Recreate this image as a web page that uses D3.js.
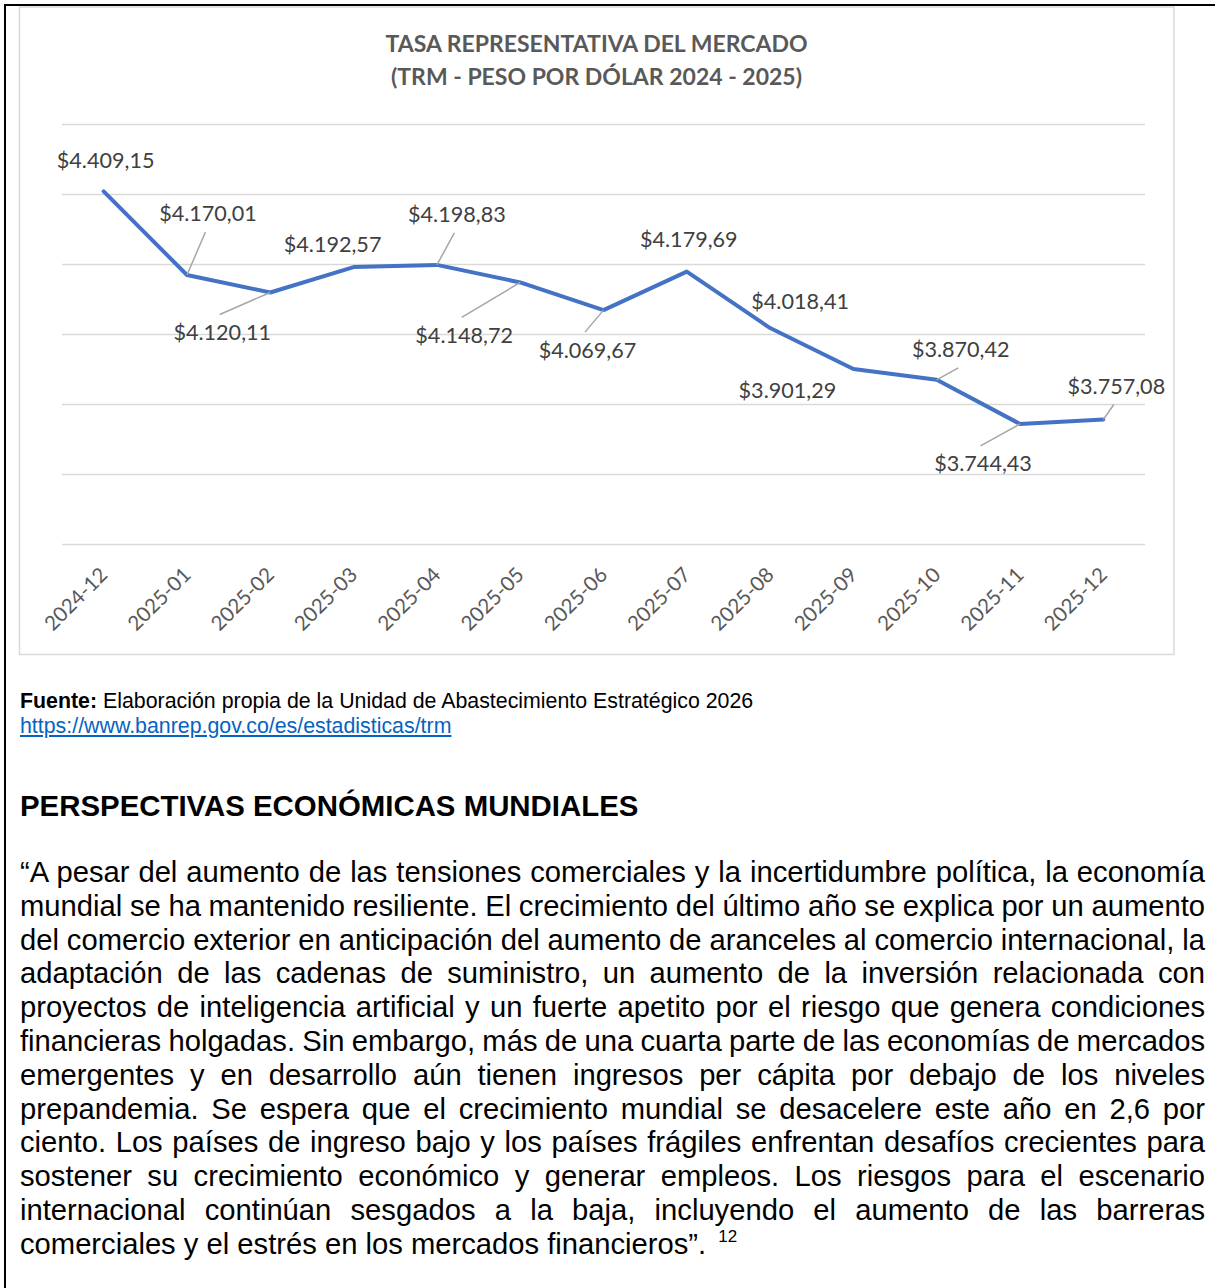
<!DOCTYPE html>
<html>
<head>
<meta charset="utf-8">
<script src="https://cdn.jsdelivr.net/npm/d3@7"></script>
<style>
  body { margin: 0; background: #fff; }
  #page { position: relative; width: 1215px; height: 1288px; overflow: hidden; background: #fff; }
  #chart { position: absolute; left: 0; top: 0; }
  .txt { position: absolute; left: 20px; font-family: "Liberation Sans", Arial, sans-serif; color: #000; }
  .fuente { top: 689px; font-size: 21.35px; line-height: 24.6px; }
  .fuente a { color: #0563C1; text-decoration: underline; }
  .heading { top: 791px; font-size: 29.4px; line-height: 29.4px; font-weight: bold; white-space: nowrap; }
  .para { top: 856px; width: 1185px; font-size: 29.2px; line-height: 33.8px; }
  .para div { white-space: nowrap; text-align: justify; text-align-last: justify; word-spacing: -1.5px; }
  .para div.last { text-align: left; text-align-last: left; word-spacing: 0; }
  .para sup { font-size: 17px; vertical-align: 0; position: relative; top: -12px; margin-left: 12px; }
</style>
</head>
<body>
<div id="page">
  <svg id="chart" width="1215" height="1288"></svg>
  <div class="txt fuente"><b>Fuente:</b> Elaboración propia de la Unidad de Abastecimiento Estratégico 2026<br><a href="#">https://www.banrep.gov.co/es/estadisticas/trm</a></div>
  <div class="txt heading">PERSPECTIVAS ECONÓMICAS MUNDIALES</div>
  <div class="txt para" id="para"></div>
</div>
<script>
// datos TRM mensual
const months = ["2024-12", "2025-01", "2025-02", "2025-03", "2025-04", "2025-05", "2025-06",
                "2025-07", "2025-08", "2025-09", "2025-10", "2025-11", "2025-12"];
const trm = [4409.15, 4170.01, 4120.11, 4192.57, 4198.83, 4148.72, 4069.67,
             4179.69, 4018.41, 3901.29, 3870.42, 3744.43, 3757.08];
const yTicks = [3400, 3600, 3800, 4000, 4200, 4400, 4600];
const titleLines = ["TASA REPRESENTATIVA DEL MERCADO", "(TRM - PESO POR DÓLAR 2024 - 2025)"];

const paraLines = [
  "“A pesar del aumento de las tensiones comerciales y la incertidumbre política, la economía",
  "mundial se ha mantenido resiliente. El crecimiento del último año se explica por un aumento",
  "del comercio exterior en anticipación del aumento de aranceles al comercio internacional, la",
  "adaptación de las cadenas de suministro, un aumento de la inversión relacionada con",
  "proyectos de inteligencia artificial y un fuerte apetito por el riesgo que genera condiciones",
  "financieras holgadas. Sin embargo, más de una cuarta parte de las economías de mercados",
  "emergentes y en desarrollo aún tienen ingresos per cápita por debajo de los niveles",
  "prepandemia. Se espera que el crecimiento mundial se desacelere este año en 2,6 por",
  "ciento. Los países de ingreso bajo y los países frágiles enfrentan desafíos crecientes para",
  "sostener su crecimiento económico y generar empleos. Los riesgos para el escenario",
  "internacional continúan sesgados a la baja, incluyendo el aumento de las barreras",
  "comerciales y el estrés en los mercados financieros”."
];

// where each data label sits relative to its point (moved by hand in the original), plus leader line y/n
const labelLayout = [[2, -31, 0], [21, -61, 1], [-48, 40, 1], [-21, -23, 0], [20, -50, 1], [-56, 53, 1],
                     [-16, 40, 1], [2, -32, 0], [30, -27, 0], [-66, 21, 0], [24, -30, 1], [-37, 40, 1], [13, -33, 1]];

const svg = d3.select("#chart");
const font = "Lato, 'Open Sans', sans-serif";

// page borders
svg.append("line").attr("x1", 4).attr("x2", 1215).attr("y1", 5).attr("y2", 5)
  .attr("stroke", "#000").attr("stroke-width", 2);
svg.append("line").attr("x1", 5).attr("x2", 5).attr("y1", 4).attr("y2", 1288)
  .attr("stroke", "#000").attr("stroke-width", 2);

// chart box
svg.append("rect").attr("x", 19.5).attr("y", 7).attr("width", 1154.5).attr("height", 647.5)
  .attr("fill", "#fff").attr("stroke", "#d9d9d9").attr("stroke-width", 1.5);

svg.append("text")
  .attr("text-anchor", "middle")
  .attr("font-family", font).attr("font-weight", "bold").attr("font-size", 23)
  .attr("fill", "#595959")
  .selectAll("tspan").data(titleLines).join("tspan")
  .attr("x", 596.5).attr("y", (d, i) => 52 + i * 33)
  .text(d => d);

const x = d3.scalePoint().domain(months).range([62, 1145]).padding(0.5);
const y = d3.scaleLinear().domain([3400, 4600]).range([544.5, 124.5]);

const g = svg.append("g");

g.append("g").selectAll("line").data(yTicks).join("line")
  .attr("x1", 62).attr("x2", 1145)
  .attr("y1", d => y(d)).attr("y2", d => y(d))
  .attr("stroke", "#d9d9d9").attr("stroke-width", 1.5);

// x axis labels, rotated
g.append("g").selectAll("text").data(months).join("text")
  .attr("transform", d => `translate(${x(d)},571) rotate(-45)`)
  .attr("text-anchor", "end").attr("dy", "0.35em")
  .attr("font-family", font).attr("font-size", 20.5).attr("fill", "#595959")
  .text(d => d);

const line = d3.line().x((d, i) => x(months[i])).y(d => y(d));
g.append("path").datum(trm)
  .attr("d", line)
  .attr("fill", "none").attr("stroke", "#4472C4").attr("stroke-width", 4)
  .attr("stroke-linejoin", "round").attr("stroke-linecap", "round");

const loc = d3.formatLocale({ decimal: ",", thousands: ".", grouping: [3], currency: ["$", ""] });
const fmt = loc.format("$,.2f");

const labels = trm.map((v, i) => {
  const px = x(months[i]), py = y(v);
  const [dx, dy, leader] = labelLayout[i];
  return { v, px, py, cx: px + dx, cy: py + dy, leader };
});

g.append("g").selectAll("line").data(labels.filter(d => d.leader)).join("line")
  .attr("x1", d => d.px).attr("y1", d => d.py)
  .attr("x2", d => d.cx - 2.5).attr("y2", d => d.cy + (d.cy < d.py ? 18 : -18))
  .attr("stroke", "#a6a6a6").attr("stroke-width", 1.5);

g.append("g").selectAll("text").data(labels).join("text")
  .attr("x", d => d.cx).attr("y", d => d.cy + 7.5)
  .attr("text-anchor", "middle")
  .attr("font-family", font).attr("font-size", 21.6).attr("fill", "#404040")
  .text(d => fmt(d.v));

// body paragraph, one div per line as in the source document
const para = d3.select("#para");
para.selectAll("div").data(paraLines).join("div")
  .classed("last", (d, i) => i === paraLines.length - 1)
  .text(d => d);
para.select("div.last").append("sup").text("12");
</script>
</body>
</html>
